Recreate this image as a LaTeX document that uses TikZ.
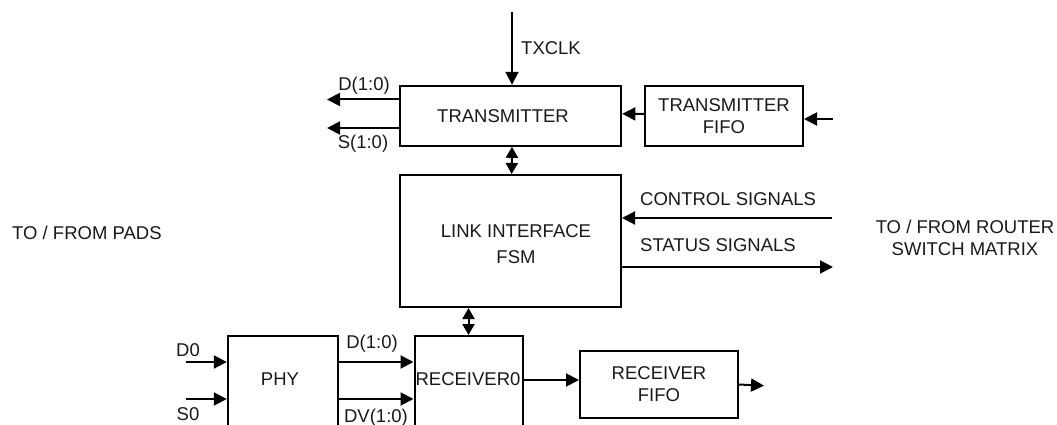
\documentclass[tikz,border=0pt]{standalone}
\usepackage{fontspec}
\setmainfont{Liberation Sans}
\usetikzlibrary{arrows.meta}
\begin{document}
\begin{tikzpicture}[x=1pt,y=-1pt,
  every node/.style={font=\fontsize{18.5}{22}\selectfont, inner sep=0pt, text=black!90},
  blk/.style={draw=black, line width=2pt, align=center},
  arr/.style={line width=2pt, -{Triangle[length=13pt,width=13pt]}},
  barr/.style={line width=2pt, {Triangle[length=11pt,width=12pt]}-{Triangle[length=11pt,width=12pt]}}]
\useasboundingbox (0,0) rectangle (1057,425);
\clip (0,0) rectangle (1057,425);
% blocks
\node[blk, minimum width=221pt, minimum height=60pt] (tx) at (510.8,115.8) {};
\node at (503,116) {TRANSMITTER};
\node[blk, minimum width=158pt, minimum height=60pt] (txf) at (724,116) {TRANSMITTER\\FIFO};
\node[blk, minimum width=221pt, minimum height=132pt] (fsm) at (510.5,241) {};
\node[align=center] at (516,244) {LINK INTERFACE\\[4pt]FSM};
\node[blk, minimum width=110pt, minimum height=110pt] (phy) at (282.8,391) {};
\node at (280,379) {PHY};
\node[blk, minimum width=108pt, minimum height=110pt] (rx0) at (468.5,391) {};
\node at (468,379) {RECEIVER0};
\node[blk, minimum width=158pt, minimum height=67pt] (rxf) at (659,384.5) {RECEIVER\\FIFO};
% side labels
\node[anchor=west] (pads) at (12,233) {TO / FROM PADS};
\node[align=center] (router) at (965,238) {TO / FROM ROUTER\\SWITCH MATRIX};
% coordinates
\coordinate (clk) at (512,12);
\coordinate (dout) at (327,99.5);
\coordinate (sout) at (327,128);
\coordinate (txin) at (833,119);
\coordinate (ctl) at (832,218);
\coordinate (st) at (833,267);
\coordinate (d0) at (186,362);
\coordinate (s0) at (186,399);
\coordinate (rxout) at (764,385.7);
% connectors
\draw[arr] (clk) -- (clk |- tx.north);
\node[anchor=west] (txclk) at (521,48) {TXCLK};
\draw[arr] (tx.west |- dout) -- (dout);
\node (dlbl) at (364,86) {D(1:0)};
\draw[arr] (tx.west |- sout) -- (sout);
\node (slbl) at (363,144) {S(1:0)};
\draw[arr] ([yshift=2pt]txf.west) -- ([yshift=2pt]tx.east);
\draw[arr] (txin) -- (txin -| txf.east);
\draw[barr] ([xshift=1.2pt]tx.south) -- ([xshift=1.2pt]fsm.north);
\draw[arr] (ctl) -- (ctl -| fsm.east);
\node[anchor=west] (ctllbl) at (640,199) {CONTROL SIGNALS};
\draw[arr] (st -| fsm.east) -- (st);
\node[anchor=west] (stlbl) at (640,245) {STATUS SIGNALS};
\draw[barr] (fsm.south -| rx0.north) -- (rx0.north);
\draw[arr] (d0) -- (d0 -| phy.west);
\node (d0lbl) at (188,350) {D0};
\draw[arr] (s0) -- (s0 -| phy.west);
\node (s0lbl) at (188,414) {S0};
\draw[arr] (phy.east |- d0) -- (rx0.west |- d0);
\node (dplbl) at (372,344) {D(1:0)};
\draw[arr] (phy.east |- s0) -- (rx0.west |- s0);
\node (dvlbl) at (376,418) {DV(1:0)};
\draw[arr] ([yshift=4.5pt]rx0.east |- rxf.west) -- ([yshift=4.5pt]rxf.west);
\draw[arr] (rxf.east) -- (rxout);
\end{tikzpicture}
\end{document}
